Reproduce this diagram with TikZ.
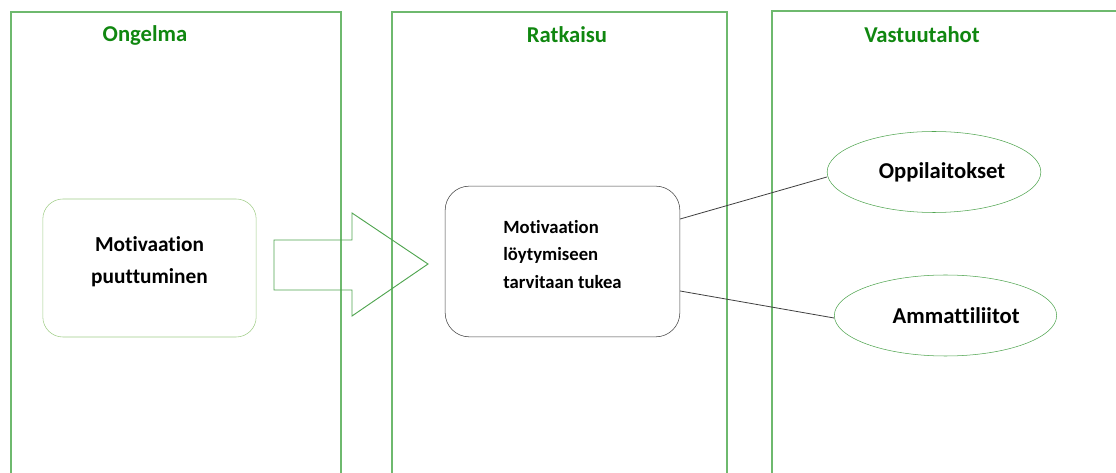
\documentclass[tikz,border=0pt]{standalone}
\usepackage{fontspec}
\setmainfont[Ligatures=NoCommon]{Carlito}
\usetikzlibrary{shapes.geometric, positioning}

\definecolor{titlegreen}{RGB}{16,135,16}
\definecolor{panelgreen}{RGB}{110,185,110}
\definecolor{softgreen}{RGB}{160,205,135}
\definecolor{ovalgreen}{RGB}{80,165,80}
\definecolor{boxgray}{RGB}{64,64,64}

\begin{document}
\begin{tikzpicture}[
    x=0.75pt, y=-0.75pt,
    every node/.style={font=\bfseries},
    panel/.style={draw=panelgreen, line width=1pt},
    title/.style={text=titlegreen, font=\bfseries\fontsize{17}{20}\selectfont},
    probbox/.style={draw=softgreen, rounded corners=15pt, minimum width=160pt, minimum height=103.5pt, align=center, font=\bfseries\fontsize{16}{24}\selectfont},
    solbox/.style={draw=boxgray, rounded corners=18pt, minimum width=176pt, minimum height=113pt, align=left, font=\bfseries\fontsize{14}{20.6}\selectfont},
    actor/.style={draw=ovalgreen, ellipse, minimum width=157.5pt, minimum height=60.75pt, font=\bfseries\fontsize{17}{20}\selectfont},
    link/.style={draw=black!75, line width=0.6pt},
    bigarrow/.style={draw=ovalgreen, line width=0.7pt}
]
\useasboundingbox (0,0) rectangle (1116,473);
% three columns, open at the bottom
\draw[panel] (11,473) -- (11,12) -- (341,12) -- (341,473);
\draw[panel] (392,473) -- (392,12) -- (727,12) -- (727,473);
\draw[panel] (772,473) -- (772,11) -- (1116,11);
\node[title] (ongelma) at (145,35) {Ongelma};
\node[title] (ratkaisu) at (567,35) {Ratkaisu};
\node[title] (vastuu) at (922,35) {Vastuutahot};
% problem and solution boxes
\node[probbox] (puute) at (149.5,268) {Motivaation\\puuttuminen\\[-12pt]\mbox{}};
\node[solbox] (tuki) at (562.5,261.5) {Motivaation\\löytymiseen\\tarvitaan tukea\\[-10pt]\mbox{}};
% block arrow between them
\draw[bigarrow] (274,240) -- (352,240) -- (352,213) -- (428,264) -- (352,316) -- (352,290) -- (274,290) -- cycle;
% responsible parties
\node[actor] (oppi) at (934,172) {\hspace{12pt}Oppilaitokset};
\node[actor] (liitot) at (945.5,315.5) {\hspace{16pt}Ammattiliitot};
% links
\draw[link] (tuki.east |- 0,219) -- (oppi.west |- 0,177);
\draw[link] (tuki.east |- 0,291) -- (liitot.west |- 0,318);
\end{tikzpicture}
\end{document}
